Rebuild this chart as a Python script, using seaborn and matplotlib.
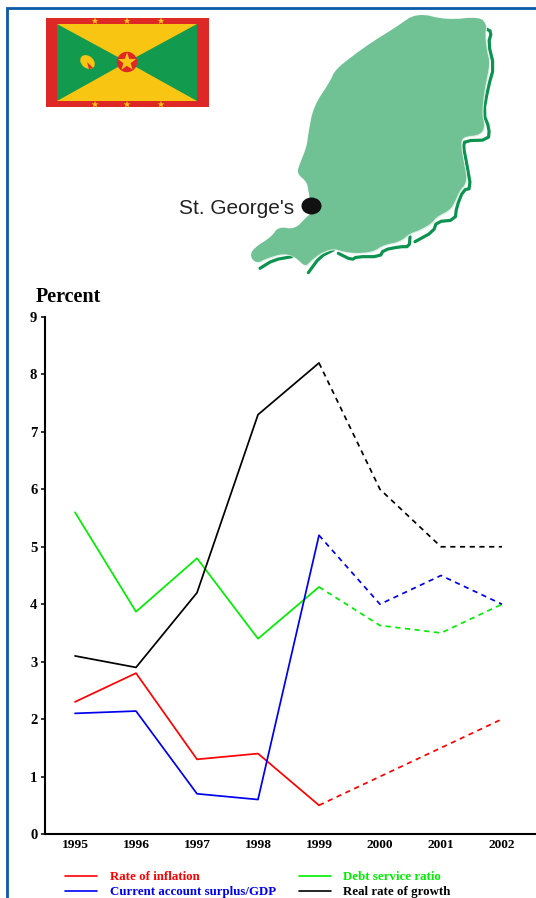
import numpy as np
import pandas as pd
import matplotlib
matplotlib.use("Agg")
import matplotlib.pyplot as plt
from matplotlib.patches import Polygon, Rectangle, Circle, Ellipse
from matplotlib.lines import Line2D
import seaborn as sns

years = [1995, 1996, 1997, 1998, 1999, 2000, 2001, 2002]
inflation = [2.3, 2.8, 1.3, 1.4, 0.5, 1.0, 1.5, 2.0]
debt_service = [5.6, 3.87, 4.8, 3.4, 4.3, 3.63, 3.5, 4.0]
current_account = [2.1, 2.14, 0.7, 0.6, 5.2, 4.0, 4.5, 4.0]
real_growth = [3.1, 2.9, 4.2, 7.3, 8.2, 6.0, 5.0, 5.0]
series_names = ["Rate of inflation", "Debt service ratio",
                "Current account surplus/GDP", "Real rate of growth"]
series_colors = ["#ff0000", "#00ee00", "#0000f0", "#000000"]
y_ticks = list(range(10))
last_actual = 1999

W, H = 536, 898
sns.set_theme(style="white")
plt.rcParams['font.family'] = ['Liberation Serif', 'DejaVu Serif']
fig = plt.figure(figsize=(W / 100, H / 100), dpi=100, facecolor="white")

# --- chart ---
left, right, top, bottom = 45, 535, 317, 834
ax = fig.add_axes([left / W, 1 - bottom / H, (right - left) / W, (bottom - top) / H])
frame = pd.DataFrame({"year": years, "Rate of inflation": inflation,
                      "Debt service ratio": debt_service,
                      "Current account surplus/GDP": current_account,
                      "Real rate of growth": real_growth})
for name, color in zip(series_names, series_colors):
    sns.lineplot(data=frame[frame.year <= last_actual], x="year", y=name, color=color,
                 lw=1.25, ax=ax, legend=False, errorbar=None)
    sns.lineplot(data=frame[frame.year >= last_actual], x="year", y=name, color=color,
                 lw=1.25, ax=ax, legend=False, errorbar=None, dashes=False,
                 linestyle=(0, (3.0, 2.6)))
ax.set_xlim(1995 - 30 / 61, 1995 + 460 / 61)
ax.set_ylim(0, 9)
ax.set_xticks(years)
ax.set_yticks(y_ticks)
ax.set_xlabel("")
ax.set_ylabel("")
ax.set_facecolor("none")
for s in ("top", "right"):
    ax.spines[s].set_visible(False)
for s in ("left", "bottom"):
    ax.spines[s].set_linewidth(1.5)
    ax.spines[s].set_color("black")
ax.tick_params(axis="y", length=3, width=1.1, color="black", pad=2.5, left=True)
ax.tick_params(axis="x", length=0, pad=3.5)
for t in ax.get_xticklabels():
    t.set_fontsize(9.6)
    t.set_fontweight("bold")
    t.set_color("black")
for t in ax.get_yticklabels():
    t.set_fontsize(10.5)
    t.set_fontweight("bold")
    t.set_color("black")

# --- overlay in pixel coordinates for flag, map, legend ---
ov = fig.add_axes([0, 0, 1, 1], zorder=-1)
ov.set_xlim(0, W)
ov.set_ylim(H, 0)
ov.axis("off")
top_ov = fig.add_axes([0, 0, 1, 1], zorder=5)
top_ov.set_xlim(0, W)
top_ov.set_ylim(H, 0)
top_ov.axis("off")
top_ov.patch.set_alpha(0)

# frame
blue = "#0b5aa8"
ov.add_line(Line2D([7, 7, W], [H, 8, 8], color=blue, lw=2.0, solid_joinstyle="miter"))

# flag
RED, YEL, GRN = "#de2826", "#f8c512", "#129a4e"
ov.add_patch(Rectangle((46, 18), 163, 89, fc=RED, ec="none"))
ov.add_patch(Rectangle((57, 24), 140, 77, fc=YEL, ec="none"))
cx, cy = 127, 62
ov.add_patch(Polygon([(57, 24), (cx, cy), (57, 101)], fc=GRN, ec="none"))
ov.add_patch(Polygon([(197, 24), (cx, cy), (197, 101)], fc=GRN, ec="none"))
ov.add_patch(Circle((cx, cy), 10.2, fc=RED, ec="none"))


def star(x, y, r, color, z=3):
    a = np.pi / 2 + np.arange(10) * np.pi / 5
    rad = np.where(np.arange(10) % 2 == 0, r, r * 0.4)
    ov.add_patch(Polygon(np.c_[x + rad * np.cos(a), y - rad * np.sin(a)], fc=color, ec="none", zorder=z))


star(cx, cy, 9.5, YEL)
for sx in (95, 127, 161):
    star(sx, 21, 3.6, YEL)
    star(sx, 104.5, 3.6, YEL)
ov.add_patch(Ellipse((87.5, 62), 16, 12, angle=40, fc=YEL, ec="none", zorder=3))
ov.add_patch(Polygon([(87, 62), (93, 68), (89, 69)], fc=RED, ec="none", zorder=4))


# map
def Z(pts):
    return np.array([(170 + x / 3, y / 3) for x, y in pts])


def chaikin(p, closed=False, n=2):
    for _ in range(n):
        q = np.vstack([p, p[0]]) if closed else p
        a, b = q[:-1], q[1:]
        out = np.empty((2 * len(a), 2))
        out[0::2] = 0.75 * a + 0.25 * b
        out[1::2] = 0.25 * a + 0.75 * b
        p = out if closed else np.vstack([q[0], out, q[-1]])
    return p


island = Z([(740, 38), (830, 60), (930, 50), (950, 75), (945, 100), (950, 150), (960, 190), (945, 260),
            (935, 340), (945, 380), (930, 405), (880, 410), (872, 430), (880, 480), (890, 530), (885, 555),
            (870, 570), (855, 605), (840, 630), (800, 650), (785, 670), (750, 690), (720, 700), (690, 725),
            (640, 735), (610, 755), (560, 760), (520, 755), (490, 745), (450, 760), (420, 785), (405, 800),
            (375, 770), (340, 760), (290, 775), (260, 790), (240, 770), (250, 745), (305, 710), (325, 680),
            (375, 688), (410, 650), (425, 640), (420, 600), (415, 570), (410, 545), (380, 520), (390, 490),
            (410, 440), (415, 400), (430, 320), (480, 245), (495, 210), (545, 170), (600, 130), (680, 80)])
shadows = [
    [(945, 85), (965, 95), (955, 130), (972, 200), (955, 260), (940, 340), (958, 385), (955, 420), (885, 422),
     (880, 440), (890, 490), (903, 565), (880, 570), (860, 620), (855, 660), (800, 665), (790, 695), (735, 725)],
    [(720, 710), (718, 740), (690, 740), (640, 750), (630, 770), (560, 770), (545, 780), (505, 760)],
    [(490, 750), (450, 770), (415, 818)],
    [(270, 805), (310, 780), (365, 770)],
]
MAP, DARK = "#70c295", "#0d9350"
for s in shadows:
    p = chaikin(Z(s), n=1)
    ov.plot(p[:, 0], p[:, 1], color=DARK, lw=2.3, solid_capstyle="round", zorder=1)
smooth_island = chaikin(island, closed=True, n=2)
ov.add_patch(Polygon(smooth_island + np.array([1.0, 1.0]), fc="#dfeee6", ec="none", zorder=1.5))
ov.add_patch(Polygon(smooth_island, fc=MAP, ec="none", zorder=2))
ov.add_patch(Ellipse((311.5, 206), 20, 17, fc="#111111", ec="none", zorder=3))
ov.text(179, 208, "St. George's", family=["Liberation Sans", "DejaVu Sans"], fontsize=15.0,
        color="#222222", va="center", ha="left")

# title and legend
top_ov.text(36, 297, "Percent", fontsize=14.5, fontweight="bold", color="black", va="center", ha="left")
rows = [(65, 110, 876, 0), (299, 343, 876, 1), (65, 110, 891, 2), (299, 343, 891, 3)]
for lx, tx, ty, i in rows:
    top_ov.add_line(Line2D([lx, lx + 32], [ty, ty], color=series_colors[i], lw=1.2))
    top_ov.text(tx, ty + 1.5, series_names[i], fontsize=9.3, fontweight="bold",
                color=series_colors[i], va="center", ha="left")

fig.savefig("out.png", dpi=100, facecolor="white")
